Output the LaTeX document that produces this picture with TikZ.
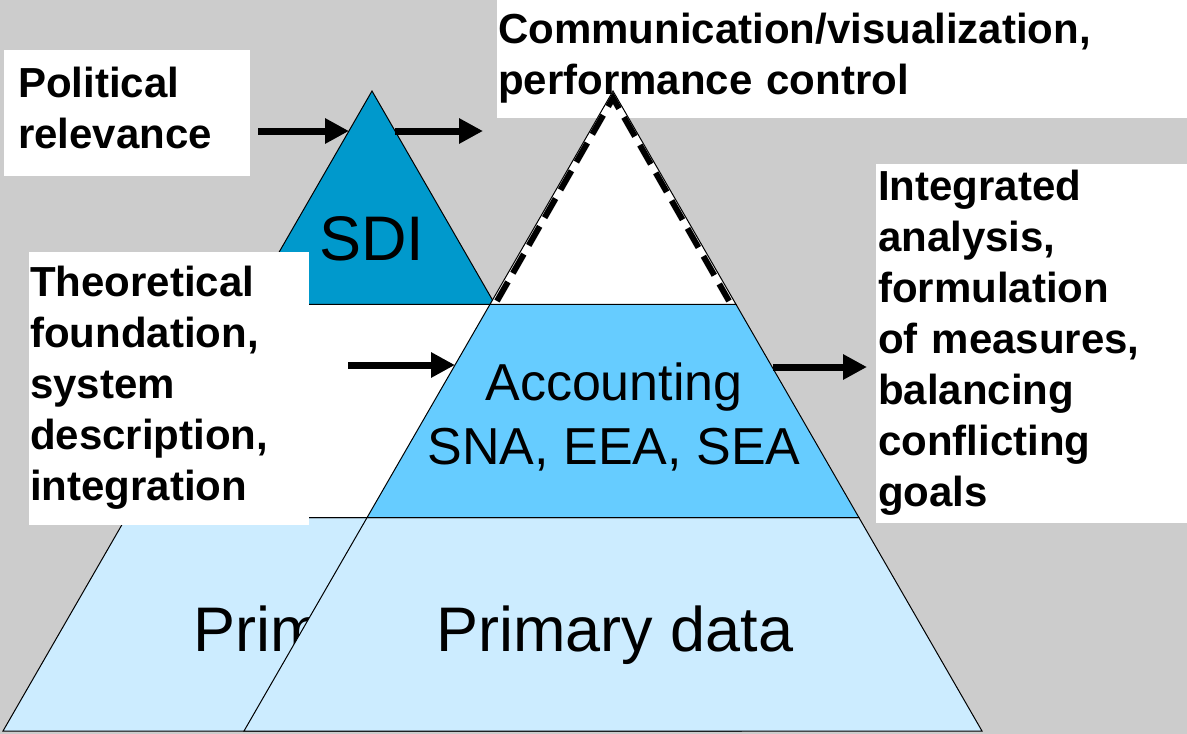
\documentclass[tikz,border=0pt]{standalone}
\usepackage{fontspec}
\setmainfont{Liberation Sans}[Ligatures=NoCommon]
\usetikzlibrary{arrows.meta,positioning,calc}
\definecolor{bggray}{HTML}{CCCCCC}
\definecolor{sdiblue}{HTML}{0099CC}
\definecolor{accblue}{HTML}{66CCFF}
\definecolor{primblue}{HTML}{CCECFF}
\tikzset{
	infobox/.style={fill=white, anchor=north west, inner ysep=0pt, align=left, font=\fontsize{42}{51}\selectfont\bfseries},
	flow/.style={line width=7pt, -{Triangle[length=24pt,width=24pt]}},
	layer/.style={draw=black, line width=1pt},
	bigtext/.style={font=\fontsize{63}{75}\selectfont},
	midtext/.style={font=\fontsize{52}{64}\selectfont, align=center}
}

\begin{document}
\begin{tikzpicture}[x=1pt,y=-1pt]
		\useasboundingbox (0,0) rectangle (1187,734);
		\fill[bggray] (0,0) rectangle (1187,734);
		
		%back pyramid
		\begin{scope}[shift={(372,0)}]
		\draw[layer, fill=primblue] (-246,517.67) -- (246,517.67) -- (369,731) -- (-369,731) -- cycle;
		\draw[layer, fill=white] (-123,304.33) -- (123,304.33) -- (246,517.67) -- (-246,517.67) -- cycle;
		\draw[layer, fill=sdiblue] (0,91) -- (123,304.33) -- (-123,304.33) -- cycle;
		\node[bigtext, anchor=base] (sdi) at (0,260) {SDI};
		\node[bigtext, anchor=base] (primB) at (0,651) {Primary data};
		\coordinate (sdiW) at (-23,131);
		\coordinate (sdiE) at (23,131);
		\end{scope}
		
		%boxes
		\node[infobox, minimum height=126pt, inner xsep=14pt, text width=218pt] (polit) at (4,50) {\strut Political\\relevance\strut};
		\node[infobox, minimum height=273pt, inner xsep=1pt, text width=278pt] (theo) at (29,252) {\strut Theoretical\\foundation,\\system\\description,\\integration\strut};
		\node[infobox, minimum height=118pt, inner xsep=1pt, text width=688pt] (comm) at (497,0) {\strut Communication/visualization,\\performance control\strut};
		\node[infobox, minimum height=359pt, inner xsep=2pt, text width=307pt] (integ) at (876,164) {\strut Integrated\\analysis,\\formulation\\of measures,\\balancing\\conflicting\\goals\strut};
		
		%front pyramid
		\begin{scope}[shift={(613,0)}]
		\draw[layer, fill=primblue] (-246,517.67) -- (246,517.67) -- (369,731) -- (-369,731) -- cycle;
		\draw[layer, fill=accblue] (-123,304.33) -- (123,304.33) -- (246,517.67) -- (-246,517.67) -- cycle;
		\draw[layer, fill=white] (0,91) -- (123,304.33) -- (-123,304.33) -- cycle;
		\draw[line width=6pt, dash pattern=on 22pt off 10pt] (-116,301) -- (0,98) -- (116,301);
		\node[midtext] (acc) at (1,417) {Accounting\\SNA, EEA, SEA};
		\node[bigtext, anchor=base] (primF) at (2,651) {Primary data};
		\coordinate (accW) at (-158,365);
		\coordinate (accE) at (160,367);
		\end{scope}
		
		%arrows
		\draw[flow, shorten <=8pt] (polit.east |- sdiW) -- (sdiW);
		\draw[flow, shorten >=14pt] (sdiE) -- (comm.west |- sdiE);
		\draw[flow, shorten <=39pt] (theo.east |- accW) -- (accW);
		\draw[flow, shorten >=9pt] (accE) -- (integ.west |- accE);
\end{tikzpicture}
\end{document}
